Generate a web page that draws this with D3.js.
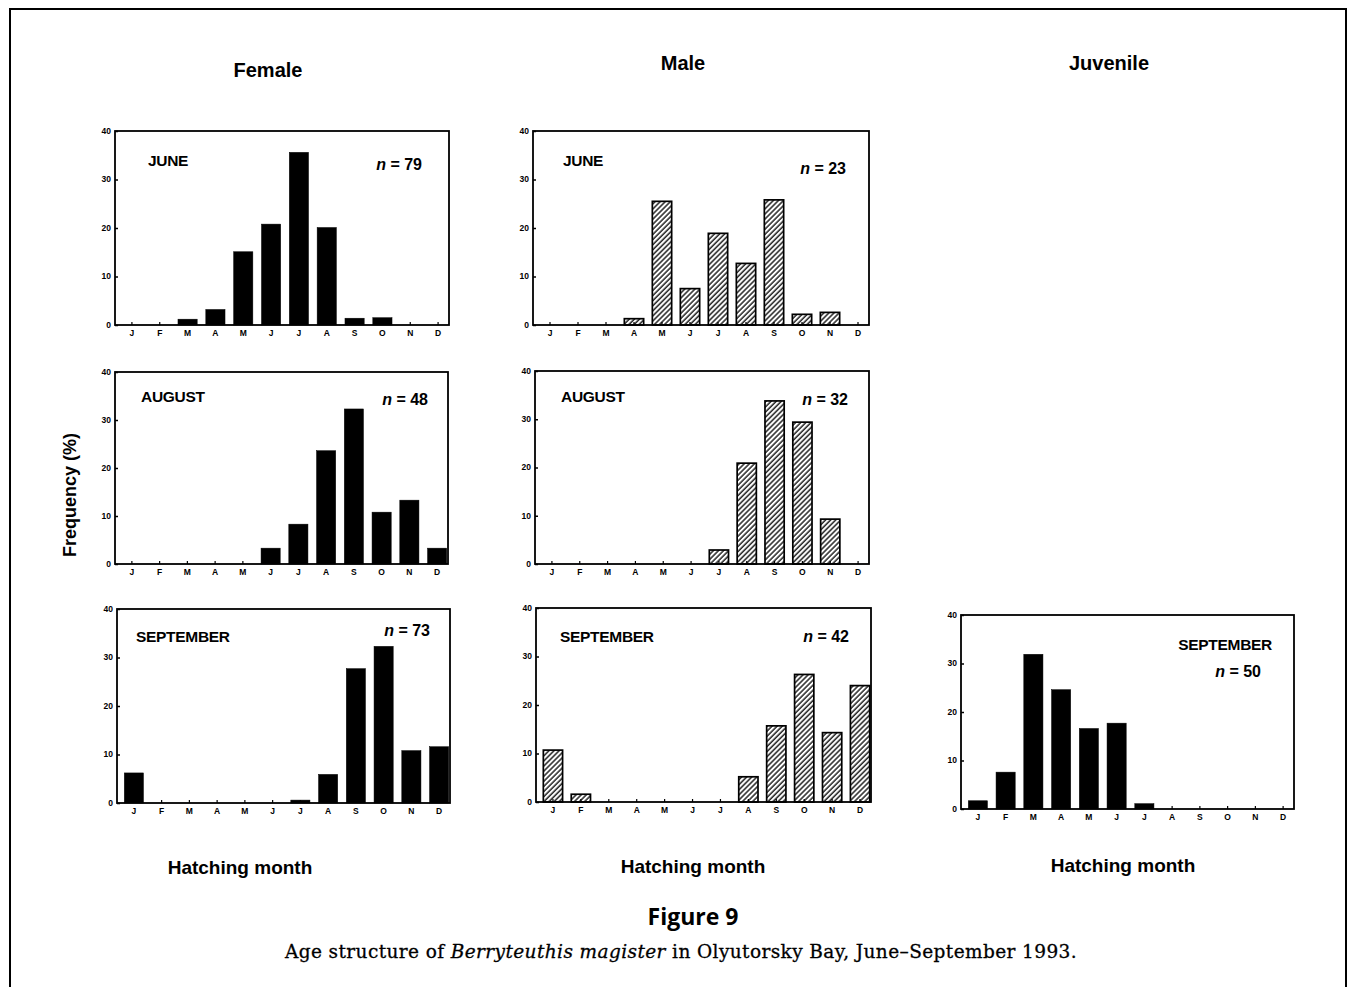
<!DOCTYPE html>
<html>
<head>
<meta charset="utf-8">
<script src="https://cdn.jsdelivr.net/npm/d3@7"></script>
<style>
  body { margin: 0; background: #fff; }
  svg { display: block; }
</style>
</head>
<body>
<script>
// hatching months, in order (labels repeat, so the scale works on indices)
const months = ["J", "F", "M", "A", "M", "J", "J", "A", "S", "O", "N", "D"];
const yTicks = [0, 10, 20, 30, 40];

// frequency (%) by hatching month
const femaleJune = [0, 0, 1.2, 3.2, 15.1, 20.8, 35.6, 20.1, 1.4, 1.5, 0, 0];
const maleJune = [0, 0, 0, 1.3, 25.5, 7.5, 18.9, 12.7, 25.8, 2.2, 2.6, 0];
const femaleAugust = [0, 0, 0, 0, 0, 3.3, 8.3, 23.6, 32.3, 10.8, 13.3, 3.3];
const maleAugust = [0, 0, 0, 0, 0, 0, 2.9, 20.9, 33.8, 29.4, 9.3, 0];
const femaleSeptember = [6.2, 0, 0, 0, 0, 0, 0.6, 5.9, 27.7, 32.3, 10.8, 11.6];
const maleSeptember = [10.7, 1.6, 0, 0, 0, 0, 0, 5.2, 15.7, 26.3, 14.3, 24.0];
const juvenileSeptember = [1.7, 7.6, 31.9, 24.6, 16.6, 17.7, 1.1, 0, 0, 0, 0, 0];

const groups = ["Female", "Male", "Juvenile"];
const sampleMonths = ["JUNE", "JUNE", "AUGUST", "AUGUST", "SEPTEMBER", "SEPTEMBER", "SEPTEMBER"];
const sampleSizes = [79, 23, 48, 32, 73, 42, 50];

const width = 1356, height = 987;

// panel frames and label placement (layout only)
const panels = [
  { values: femaleJune, hatch: false, box: [115, 131, 449, 325], mx: 33, my: 35, nx: 27, ny: 39 },
  { values: maleJune, hatch: true, box: [533, 131, 869, 325], mx: 30, my: 35, nx: 23, ny: 43 },
  { values: femaleAugust, hatch: false, box: [115, 372, 448, 564], mx: 26, my: 30, nx: 20, ny: 33 },
  { values: maleAugust, hatch: true, box: [535, 371, 869, 564], mx: 26, my: 31, nx: 21, ny: 34 },
  { values: femaleSeptember, hatch: false, box: [117, 609, 450, 803], mx: 19, my: 33, nx: 20, ny: 27 },
  { values: maleSeptember, hatch: true, box: [536, 608, 871, 802], mx: 24, my: 34, nx: 22, ny: 34 },
  { values: juvenileSeptember, hatch: false, box: [961, 615, 1294, 809], mx: null, my: 35, nx: 33, ny: 62 }
];

const svg = d3.select("body").append("svg")
  .attr("width", width)
  .attr("height", height)
  .attr("font-family", "'Liberation Sans', Arial, sans-serif");

// diagonal hatching for the male bars
svg.append("defs").append("pattern")
  .attr("id", "hatch")
  .attr("patternUnits", "userSpaceOnUse")
  .attr("width", 3.6)
  .attr("height", 3.6)
  .attr("patternTransform", "rotate(45)")
  .append("line")
  .attr("x1", 1).attr("y1", 0)
  .attr("x2", 1).attr("y2", 3.6)
  .attr("stroke", "#000")
  .attr("stroke-width", 1.3);

// outer page border
svg.append("path")
  .attr("d", `M10,${height} L10,9 L1346,9 L1346,${height}`)
  .attr("fill", "none")
  .attr("stroke", "#000")
  .attr("stroke-width", 2);

panels.forEach((p, k) => {
  const [x0, y0, x1, y1] = p.box;
  const x = d3.scaleBand()
    .domain(d3.range(months.length))
    .range([x0 + 3, x1 + 3])
    .paddingInner(0.31)
    .paddingOuter(0.155);
  const y = d3.scaleLinear().domain([0, 40]).range([y1, y0]);

  const g = svg.append("g");

  // bars
  g.selectAll("rect.bar")
    .data(p.values.map((v, i) => ({ i, v })).filter(d => d.v > 0))
    .join("rect")
    .attr("class", "bar")
    .attr("x", d => x(d.i))
    .attr("width", x.bandwidth())
    .attr("y", d => y(d.v))
    .attr("height", d => y(0) - y(d.v))
    .attr("fill", p.hatch ? "url(#hatch)" : "#000")
    .attr("stroke", "#000")
    .attr("stroke-width", p.hatch ? 1.7 : 0.5);

  // y axis: inward ticks, tiny bold labels
  const yAxis = g.append("g")
    .attr("transform", `translate(${x0},0)`)
    .call(d3.axisRight(y).tickValues(yTicks).tickSize(3).tickFormat(""));
  yAxis.select(".domain").remove();
  yAxis.selectAll("line").attr("stroke-width", 1.5);
  g.selectAll("text.ytick")
    .data(yTicks)
    .join("text")
    .attr("class", "ytick")
    .attr("x", x0 - 4)
    .attr("y", d => y(d))
    .attr("dy", "0.35em")
    .attr("text-anchor", "end")
    .attr("font-size", 8.5)
    .attr("font-weight", "bold")
    .text(d => d);

  // x axis: inward ticks at month centres
  const xAxis = g.append("g")
    .attr("transform", `translate(0,${y1})`)
    .call(d3.axisTop(x).tickSize(3).tickFormat(""));
  xAxis.select(".domain").remove();
  xAxis.selectAll("line").attr("stroke-width", 1.2);
  g.selectAll("text.xtick")
    .data(months)
    .join("text")
    .attr("class", "xtick")
    .attr("x", (d, i) => x(i) + x.bandwidth() / 2)
    .attr("y", y1 + 11)
    .attr("text-anchor", "middle")
    .attr("font-size", 8.5)
    .attr("font-weight", "bold")
    .text(d => d);

  // frame
  g.append("rect")
    .attr("x", x0).attr("y", y0)
    .attr("width", x1 - x0).attr("height", y1 - y0)
    .attr("fill", "none")
    .attr("stroke", "#000")
    .attr("stroke-width", 1.8);

  // sample month
  g.append("text")
    .attr("x", p.mx == null ? x1 - 22 : x0 + p.mx)
    .attr("y", y0 + p.my)
    .attr("text-anchor", p.mx == null ? "end" : "start")
    .attr("font-size", 15.5)
    .attr("font-weight", "bold")
    .attr("letter-spacing", "-0.3")
    .text(sampleMonths[k]);

  // sample size
  const n = g.append("text")
    .attr("x", x1 - p.nx)
    .attr("y", y0 + p.ny)
    .attr("text-anchor", "end")
    .attr("font-size", 16)
    .attr("font-weight", "bold");
  n.append("tspan").attr("font-style", "italic").text("n");
  n.append("tspan").text(` = ${sampleSizes[k]}`);
});

// column headings
const headX = [268, 683, 1109], headY = [77, 70, 70];
svg.selectAll("text.head")
  .data(groups)
  .join("text")
  .attr("class", "head")
  .attr("x", (d, i) => headX[i])
  .attr("y", (d, i) => headY[i])
  .attr("text-anchor", "middle")
  .attr("font-size", 20)
  .attr("font-weight", "bold")
  .text(d => d);

// axis titles
svg.append("text")
  .attr("transform", "translate(76,495) rotate(-90)")
  .attr("text-anchor", "middle")
  .attr("font-size", 18)
  .attr("font-weight", "bold")
  .text("Frequency (%)");

const footX = [240, 693, 1123], footY = [874, 873, 872];
svg.selectAll("text.foot")
  .data(footX)
  .join("text")
  .attr("class", "foot")
  .attr("x", d => d)
  .attr("y", (d, i) => footY[i])
  .attr("text-anchor", "middle")
  .attr("font-size", 19)
  .attr("font-weight", "bold")
  .text("Hatching month");

// figure caption
svg.append("text")
  .attr("x", 693)
  .attr("y", 925)
  .attr("text-anchor", "middle")
  .attr("font-family", "'Open Sans', sans-serif")
  .attr("font-size", 23)
  .attr("font-weight", "bold")
  .text("Figure 9");

const cap = svg.append("text")
  .attr("x", 681)
  .attr("y", 958)
  .attr("text-anchor", "middle")
  .attr("font-family", "'DejaVu Serif', serif")
  .attr("font-size", 18.5)
  .attr("letter-spacing", "0.4")
  .attr("stroke", "#000")
  .attr("stroke-width", 0.3);
cap.append("tspan").text("Age structure of ");
cap.append("tspan").attr("font-style", "italic").text("Berryteuthis magister");
cap.append("tspan").text(" in Olyutorsky Bay, June–September 1993.");
</script>
</body>
</html>
